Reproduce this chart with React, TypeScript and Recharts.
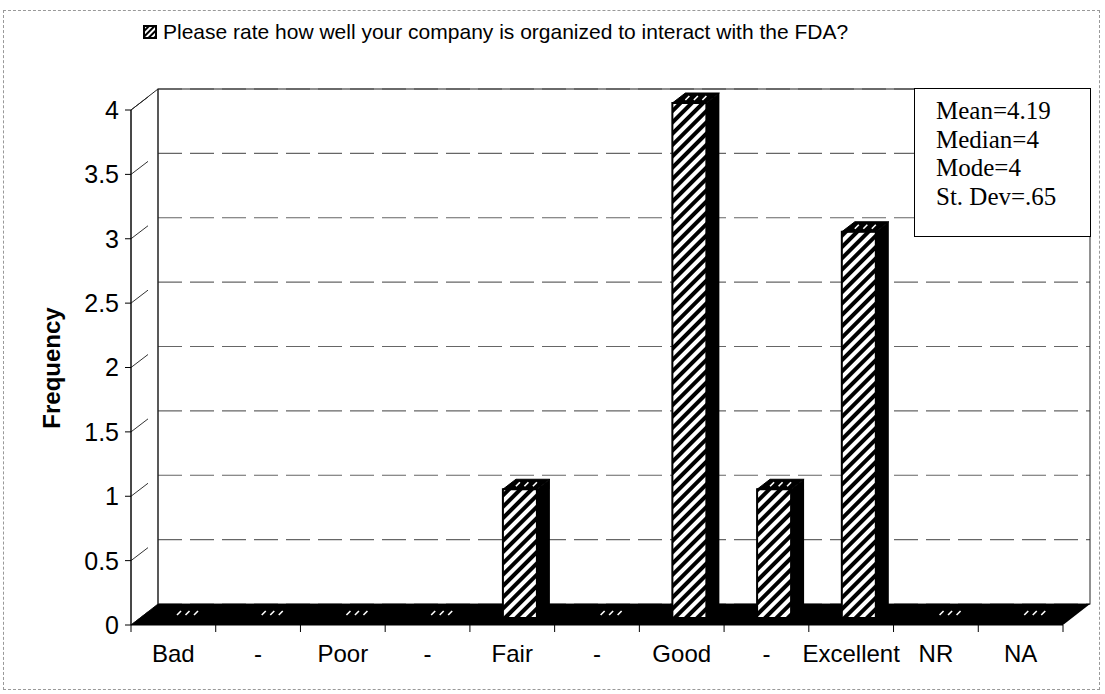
import React from 'react';
import { BarChart, Bar, XAxis, YAxis, CartesianGrid, ReferenceArea } from 'recharts';

const categories = ['Bad', '-', 'Poor', '-', 'Fair', '-', 'Good', '-', 'Excellent', 'NR', 'NA'];
const frequency = [0, 0, 0, 0, 1, 0, 4, 1, 3, 0, 0];
const yTicks = [0, 0.5, 1, 1.5, 2, 2.5, 3, 3.5, 4];
const stats = ['Mean=4.19', 'Median=4', 'Mode=4', 'St. Dev=.65'];
const seriesName = 'Please rate how well your company is organized to interact with the FDA?';

const data = categories.map((name, i) => ({ name, value: frequency[i] }));

const SANS = '"Liberation Sans", Arial, sans-serif';
const SERIF = '"Liberation Serif", "Times New Roman", serif';

// 3d offsets: back wall and bar depth
const DX = 27;
const DY = -21;
const BAR_DX = 8;
const BAR_DY = -7;
const DEPTH_X = 13;
const DEPTH_Y = -10;

const Walls = (props: any) => {
  const { x, y, width, height } = props;
  const b = y + height;
  const r = x + width;
  return (
    <g>
      <rect x={x + DX} y={y + DY} width={width} height={height} fill="none" stroke="#222" strokeWidth={1} />
      <polygon
        points={`${x},${y} ${x + DX},${y + DY} ${x + DX},${b + DY} ${x},${b}`}
        fill="none"
        stroke="#222"
        strokeWidth={1}
      />
      <polygon points={`${x},${b} ${x + DX},${b + DY} ${r + DX},${b + DY} ${r},${b}`} fill="#000" />
    </g>
  );
};

const GridLine = (props: any) => {
  const { x1, y1, x2, y2 } = props;
  return (
    <g key={props.key}>
      <line x1={x1} y1={y1} x2={x1 + 17} y2={y1 - 13} stroke="#333" strokeWidth={1} />
      <line
        x1={x1 + DX}
        y1={y1 + DY}
        x2={x2 + DX}
        y2={y2 + DY}
        stroke="#666"
        strokeWidth={1.2}
        strokeDasharray="24 8"
      />
    </g>
  );
};

const Bar3D = (props: any) => {
  const { x, y, width } = props;
  const h = Math.max(0, props.height || 0);
  const fx = x + BAR_DX;
  const fy = y + BAR_DY;
  const marks = [0.25, 0.5, 0.75];
  return (
    <g>
      <polygon
        points={`${fx + width},${fy} ${fx + width + DEPTH_X},${fy + DEPTH_Y} ${fx + width + DEPTH_X},${fy + h + DEPTH_Y} ${fx + width},${fy + h}`}
        fill="#000"
      />
      {h > 0 && <rect x={fx} y={fy} width={width} height={h} fill="url(#hatch)" stroke="#000" strokeWidth={2} />}
      <polygon
        points={`${fx},${fy} ${fx + DEPTH_X},${fy + DEPTH_Y} ${fx + width + DEPTH_X},${fy + DEPTH_Y} ${fx + width},${fy}`}
        fill="#000"
        stroke="#000"
        strokeWidth={1}
      />
      {marks.map((k) => {
        const cx = fx + width * k + DEPTH_X / 2;
        const cy = fy + DEPTH_Y / 2;
        return <line key={k} x1={cx - 2} y1={cy + 2} x2={cx + 2} y2={cy - 2} stroke="#fff" strokeWidth={1.6} />;
      })}
    </g>
  );
};

const XTick = (props: any) => {
  const { x, y, payload, index, visibleTicksCount } = props;
  const band = (props.width || 932) / (visibleTicksCount || categories.length);
  return (
    <g>
      <line x1={x - band / 2} y1={y} x2={x - band / 2} y2={y + 7} stroke="#000" strokeWidth={1} />
      {index === visibleTicksCount - 1 && (
        <line x1={x + band / 2} y1={y} x2={x + band / 2} y2={y + 7} stroke="#000" strokeWidth={1} />
      )}
      <text x={x} y={y + 37} textAnchor="middle" fontSize={24} fontFamily={SANS} fill="#000">
        {payload.value}
      </text>
    </g>
  );
};

export default function App() {
  return (
    <div style={{ position: 'absolute', left: 0, top: 0, width: 1105, height: 694, background: '#fff' }}>
      <div
        style={{
          position: 'absolute',
          left: 3,
          top: 10,
          width: 1097,
          height: 680,
          border: '1px dashed #999',
          boxSizing: 'border-box',
        }}
      />
      <BarChart width={1105} height={694} data={data} margin={{ top: 110, right: 42, bottom: 29, left: 71 }}>
        <defs>
          <pattern id="hatch" width="8" height="8" patternUnits="userSpaceOnUse" patternTransform="rotate(45)">
            <rect width="8" height="8" fill="#fff" />
            <rect width="4" height="8" fill="#000" />
          </pattern>
        </defs>
        <CartesianGrid horizontal={GridLine} vertical={false} />
        <ReferenceArea y1={0} y2={4} shape={<Walls />} ifOverflow="visible" />
        <XAxis
          dataKey="name"
          height={40}
          axisLine={{ stroke: '#000' }}
          tickLine={false}
          tickSize={0}
          tickMargin={0}
          interval={0}
          tick={<XTick />}
        />
        <YAxis
          width={60}
          domain={[0, 4]}
          ticks={yTicks}
          interval={0}
          axisLine={{ stroke: '#000' }}
          tickLine={{ stroke: '#000' }}
          tickSize={6}
          tickMargin={6}
          tick={{ fontSize: 25, fontFamily: SANS, fill: '#000' }}
        />
        <Bar dataKey="value" barSize={34} shape={<Bar3D />} isAnimationActive={false} />
      </BarChart>
      <div
        style={{
          position: 'absolute',
          left: 143,
          top: 20,
          display: 'flex',
          alignItems: 'center',
          fontFamily: SANS,
          fontSize: 21,
          color: '#000',
          whiteSpace: 'nowrap',
        }}
      >
        <svg width={14} height={14} style={{ marginRight: 6 }}>
          <defs>
            <pattern id="hatchSmall" width="4" height="4" patternUnits="userSpaceOnUse" patternTransform="rotate(45)">
              <rect width="4" height="4" fill="#fff" />
              <rect width="2" height="4" fill="#000" />
            </pattern>
          </defs>
          <rect x={1} y={1} width={12} height={12} fill="url(#hatchSmall)" stroke="#000" strokeWidth={2} />
        </svg>
        <span>{seriesName}</span>
      </div>
      <div
        style={{
          position: 'absolute',
          left: 52,
          top: 368,
          transform: 'translate(-50%, -50%) rotate(-90deg)',
          fontFamily: SANS,
          fontWeight: 'bold',
          fontSize: 24,
          whiteSpace: 'nowrap',
          transformOrigin: 'center',
        }}
      >
        Frequency
      </div>
      <div
        style={{
          position: 'absolute',
          left: 914,
          top: 88,
          width: 177,
          height: 149,
          boxSizing: 'border-box',
          border: '1.5px solid #000',
          background: '#fff',
          padding: '8px 0 0 21px',
          fontFamily: SERIF,
          fontSize: 25,
          lineHeight: '28.7px',
          color: '#000',
        }}
      >
        {stats.map((s) => (
          <div key={s} style={{ whiteSpace: 'nowrap' }}>
            {s}
          </div>
        ))}
      </div>
    </div>
  );
}
